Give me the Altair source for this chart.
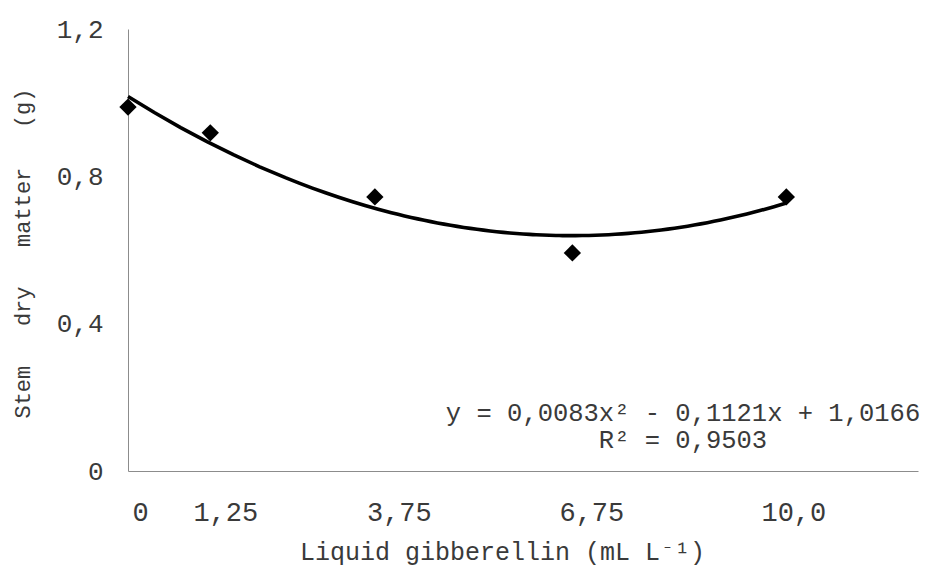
import altair as alt
import pandas as pd

# Data
doses = [0, 1.25, 3.75, 6.75, 10]
stem_dry_matter = [0.988, 0.918, 0.744, 0.592, 0.744]

x_tick_values = [0, 1.25, 3.75, 6.75, 10]
x_tick_labels = ["0", "1,25", "3,75", "6,75", "10,0"]
x_label_shift = [12, 15, 24, 19, 7]
y_tick_values = [0, 0.4, 0.8, 1.2]
y_tick_labels = ["0", "0,4", "0,8", "1,2"]

equation_lines = ["y = 0,0083x² - 0,1121x + 1,0166", "R² = 0,9503"]
equation_rows_y = [384, 411]

x_title = "Liquid gibberellin (mL L⁻¹)"
y_title_words = ["Stem", "dry", "matter", "(g)"]

FONT = "'Courier New', 'Nimbus Mono PS', 'Nimbus Mono L', FreeMono, 'Liberation Mono', monospace"
TXT = "#3a3a3a"
AX = "#8c8c8c"

df = pd.DataFrame({"dose": doses, "sdm": stem_dry_matter})


def label_expr(values, labels):
    expr = "''"
    for v, l in zip(reversed(values), reversed(labels)):
        expr = f"abs(datum.value - {v}) < 1e-6 ? '{l}' : ({expr})"
    return expr


x_scale = alt.Scale(domain=[0, 12], nice=False, zero=False)
y_scale = alt.Scale(domain=[0, 1.2], nice=False)

x_axis = alt.Axis(
    values=x_tick_values,
    labelExpr=label_expr(x_tick_values, x_tick_labels),
    labelOffset={
        "condition": [
            {"test": f"abs(datum.value - {v}) < 1e-6", "value": s}
            for v, s in zip(x_tick_values, x_label_shift)
        ],
        "value": 0,
    },
    title=x_title,
    titleX=374,
    titleY=80,
    titleAlign="center",
    titleBaseline="middle",
    titleFont=FONT,
    titleFontSize=25,
    titleFontWeight="normal",
    titleColor=TXT,
    labelFont=FONT,
    labelFontSize=27,
    labelColor=TXT,
    labelBaseline="middle",
    labelPadding=41,
    labelFlush=False,
    labelOverlap=False,
    ticks=False,
    tickSize=0,
    grid=False,
    domainColor=AX,
    domainWidth=1,
)

y_axis = alt.Axis(
    values=y_tick_values,
    labelExpr=label_expr(y_tick_values, y_tick_labels),
    title="\u00a0\u00a0\u00a0".join(y_title_words),
    titleX=-106,
    titleY=224,
    titleAngle=270,
    titleAlign="center",
    titleBaseline="middle",
    titleFont=FONT,
    titleFontSize=22,
    titleFontWeight="normal",
    titleColor=TXT,
    labelFont=FONT,
    labelFontSize=26,
    labelColor=TXT,
    labelBaseline="middle",
    labelPadding=25,
    labelFlush=False,
    labelOverlap=False,
    ticks=False,
    tickSize=0,
    grid=False,
    domainColor=AX,
    domainWidth=1,
)

base = alt.Chart(df)

points = base.mark_point(shape="diamond", filled=True, size=300, color="black", opacity=1).encode(
    x=alt.X("dose:Q", scale=x_scale, axis=x_axis),
    y=alt.Y("sdm:Q", scale=y_scale, axis=y_axis),
)

trend = base.transform_regression(
    "dose", "sdm", method="poly", order=2, extent=[0, 10]
).mark_line(color="black", strokeWidth=3.6).encode(
    x=alt.X("dose:Q", scale=x_scale, axis=x_axis),
    y=alt.Y("sdm:Q", scale=y_scale, axis=y_axis),
)

eq_layers = [
    alt.Chart(pd.DataFrame({"t": [line]})).mark_text(
        font=FONT, fontSize=25.5, color=TXT, align="center", baseline="middle"
    ).encode(
        x=alt.value(555),
        y=alt.value(yy),
        text="t:N",
    )
    for line, yy in zip(equation_lines, equation_rows_y)
]

chart = (
    alt.layer(trend, points, *eq_layers)
    .properties(
        width=790,
        height=442,
        autosize=alt.AutoSizeParams(type="none"),
        padding={"left": 120, "top": 21, "right": 5, "bottom": 97},
    )
    .configure(background="white")
    .configure_view(stroke=None)
)

chart.save("out.html", embed_options={"renderer": "svg", "actions": False})
